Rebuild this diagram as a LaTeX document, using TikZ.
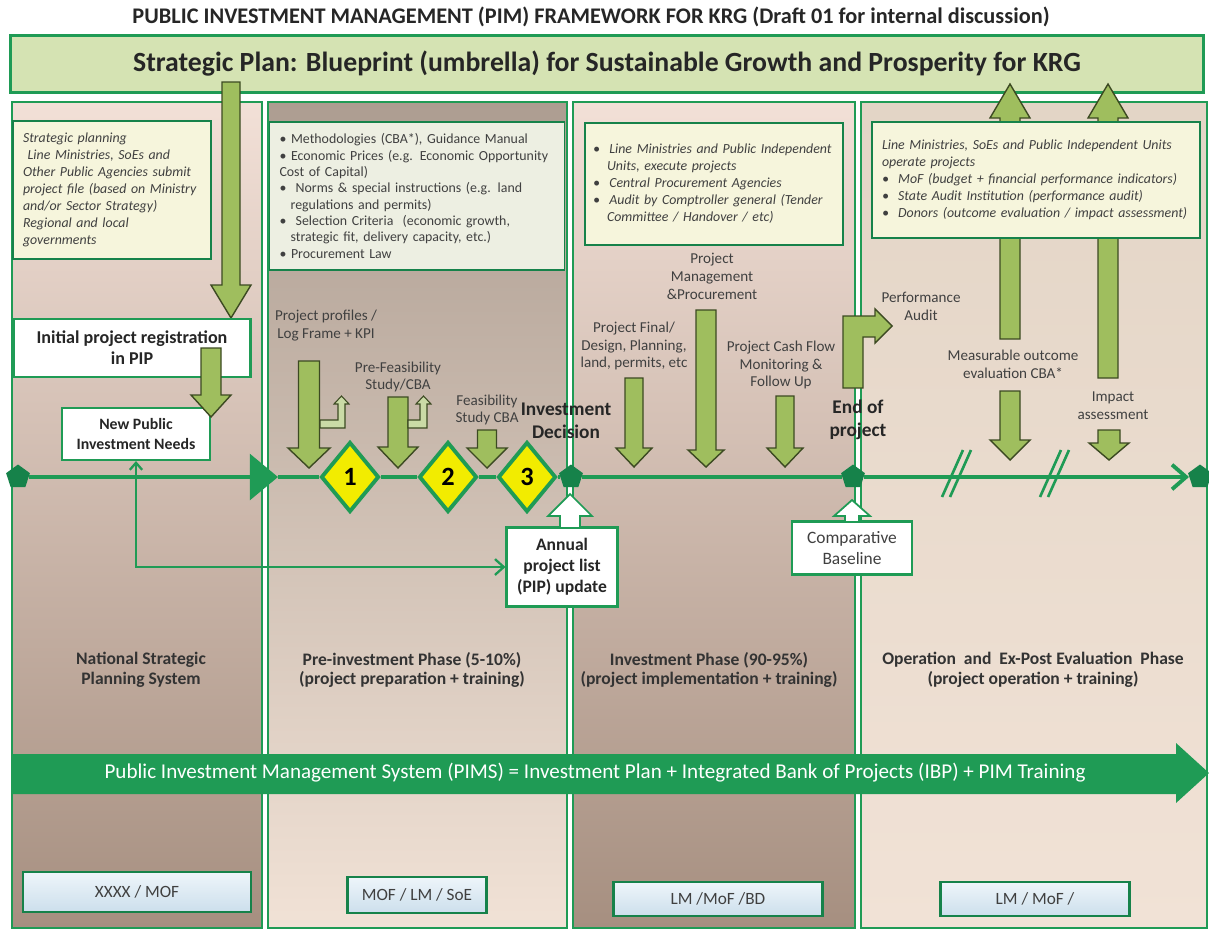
\documentclass[tikz,border=0pt]{standalone}
\usepackage{fontspec}
\setmainfont{Carlito}
\usetikzlibrary{arrows,arrows.meta,shapes}
\definecolor{pimgreen}{HTML}{1F9B55}
\definecolor{pimdark}{HTML}{16824A}
\definecolor{leaf}{HTML}{9FBE5E}
\definecolor{leafline}{HTML}{3C4A22}
\definecolor{bannerfill}{HTML}{D5E3B3}
\definecolor{notefill}{HTML}{F6F5DC}
\definecolor{notegrey}{HTML}{EDEFE2}
\definecolor{skytop}{HTML}{EEF5FA}
\definecolor{skybot}{HTML}{CCDFEC}
\definecolor{labgrey}{HTML}{404040}
\definecolor{yellowish}{HTML}{F2EC00}
\definecolor{rose}{HTML}{F2E0D7}
\definecolor{rosebrown}{HTML}{DCCABE}
\definecolor{mocha}{HTML}{A68F80}
\definecolor{taupe}{HTML}{AD9D91}
\definecolor{sandtop}{HTML}{E3D5C6}
\definecolor{sandbot}{HTML}{F1E2D6}
\tikzstyle{phase}=[draw=pimgreen, line width=1.3pt]
\tikzstyle{plan}=[draw=pimgreen, line width=1.5pt, fill=bannerfill,
  minimum width=23.86cm, minimum height=1.14cm, text=black!85,
  font=\bfseries\fontsize{15.8}{18}\selectfont]
\tikzstyle{note}=[draw=pimdark, line width=0.8pt, fill=notefill, align=left,
  inner xsep=0.2cm, text=labgrey, font=\itshape\fontsize{7.9}{9.7}\selectfont]
\tikzstyle{regbox}=[draw=pimgreen, line width=1.2pt, fill=white, align=center,
  text=black!85, font=\bfseries\fontsize{10.3}{12}\selectfont]
\tikzstyle{lbl}=[align=center, text=labgrey, inner sep=1pt,
  font=\fontsize{8.6}{10.2}\selectfont]
\tikzstyle{keylbl}=[align=center, text=black!85, inner sep=1pt,
  font=\bfseries\fontsize{11}{13}\selectfont]
\tikzstyle{phaselbl}=[align=center, text=black!80,
  font=\bfseries\fontsize{10}{11.3}\selectfont]
\tikzstyle{who}=[draw=pimdark, line width=1.2pt, top color=skytop,
  bottom color=skybot, text=black!75, font=\fontsize{9.8}{11}\selectfont]
\tikzstyle{milestone}=[diamond, draw=pimgreen, line width=2.2pt, fill=yellowish,
  minimum width=1.16cm, minimum height=1.4cm, inner sep=0pt,
  font=\bfseries\fontsize{15}{15}\selectfont]
\tikzstyle{hub}=[regular polygon, regular polygon sides=5, fill=pimdark,
  minimum size=0.5cm, inner sep=0pt]
\tikzstyle{tline}=[draw=pimgreen, line width=2.2pt]
\tikzstyle{link}=[draw=pimgreen, line width=1.3pt]
\tikzstyle{leafarrow}=[fill=leaf, draw=leafline, line width=0.8pt]
\tikzstyle{paleleaf}=[fill=leaf!55, draw=leafline, line width=0.6pt]
\tikzstyle{hollow}=[fill=white, draw=pimgreen, line width=1pt]
% block arrow: style, x, half shaft, start y, head y, tip y, half head
\newcommand{\blockarrow}[7]{%
  \draw[#1] ({#2-#3},#4) -- ({#2+#3},#4) -- ({#2+#3},#5) -- ({#2+#7},#5)
    -- (#2,#6) -- ({#2-#7},#5) -- ({#2-#3},#5) -- cycle;}
\begin{document}
\begin{tikzpicture}[x=0.02cm,y=-0.02cm]
\path[use as bounding box] (0,0) rectangle (1209,930);
% phase columns
\shadedraw[phase, top color=rose, middle color=rosebrown, bottom color=mocha]
  (12,102) rectangle (262,928);
\shadedraw[phase, top color=taupe, middle color=rosebrown, bottom color=sandbot]
  (268,102) rectangle (567,928);
\shadedraw[phase, top color=rose, middle color=rosebrown, bottom color=mocha]
  (573,102) rectangle (855,928);
\shadedraw[phase, top color=sandtop, bottom color=sandbot]
  (861,102) rectangle (1207,928);

\node[font=\bfseries\fontsize{12.7}{14}\selectfont, text=black!85] (title) at (591,17)
  {PUBLIC INVESTMENT MANAGEMENT (PIM) FRAMEWORK FOR KRG (Draft 01 for internal discussion)};
\node[plan] (plan) at (607,64)
  {Strategic Plan: Blueprint (umbrella) for Sustainable Growth and Prosperity for KRG};

\blockarrow{leafarrow}{231}{9}{82}{285}{318}{20}
\blockarrow{leafarrow}{1010}{10}{339}{118}{84}{20}
\blockarrow{leafarrow}{1108}{10}{378}{118}{84}{20}

% notes on top of each phase
\node[note, minimum width=3.96cm, minimum height=2.76cm, text width=3.56cm] (plannote) at (112,190)
  {Strategic planning\\
   \ Line Ministries, SoEs and\\
   Other Public Agencies submit\\
   project file (based on Ministry\\
   and/or Sector Strategy)\\
   Regional and local\\
   governments};
\node[note, fill=notegrey, font=\fontsize{7.9}{9.3}\selectfont, minimum width=5.9cm,
  minimum height=2.96cm, text width=5.5cm] (prenote) at (417,196)
  {\textbullet\ Methodologies (CBA*), Guidance Manual\\
   \textbullet\ Economic Prices (e.g. Economic Opportunity\\
   Cost of Capital)\\
   \textbullet\ \ Norms \& special instructions (e.g. land\\
   \hspace*{0.8em}regulations and permits)\\
   \textbullet\ \ Selection Criteria\ \ (economic growth,\\
   \hspace*{0.8em}strategic fit, delivery capacity, etc.)\\
   \textbullet\ Procurement Law};
\node[note, inner xsep=0.08cm, minimum width=5.16cm, minimum height=2.44cm,
  text width=5cm] (invnote) at (714,184)
  {\hspace*{0.3em}\textbullet\ \ Line Ministries and Public Independent\\
   \hspace*{1.3em}Units, execute projects\\
   \hspace*{0.3em}\textbullet\ \ Central Procurement Agencies\\
   \hspace*{0.3em}\textbullet\ \ Audit by Comptroller general (Tender\\
   \hspace*{1.3em}Committee / Handover / etc)};
\node[note, minimum width=6.56cm, minimum height=2.32cm, text width=6.16cm] (opnote) at (1036,180)
  {Line Ministries, SoEs and Public Independent Units\\
   operate projects\\
   \textbullet\ \ MoF (budget + financial performance indicators)\\
   \textbullet\ \ State Audit Institution (performance audit)\\
   \textbullet\ \ Donors (outcome evaluation / impact assessment)};

% registration
\node[regbox, minimum width=4.74cm, minimum height=1.16cm] (initial) at (132,348)
  {Initial project registration\\in PIP};
\node[regbox, font=\bfseries\fontsize{9}{11}\selectfont, minimum width=2.96cm,
  minimum height=1.04cm] (needs) at (136,434) {New Public\\Investment Needs};
\blockarrow{leafarrow}{211}{10}{348}{395}{417}{20}

% step arrows
\blockarrow{leafarrow}{309}{10.5}{361}{448}{468}{21}
\blockarrow{leafarrow}{398}{10}{397}{447}{468}{20}
\blockarrow{leafarrow}{487}{9.5}{430}{448}{468}{20}
\draw[paleleaf] (320,420) -- (338,420) -- (338,404) -- (334,404) -- (341.5,396)
  -- (349,404) -- (345,404) -- (345,428) -- (320,428) -- cycle;
\draw[paleleaf] (408,420) -- (420,420) -- (420,404) -- (416,404) -- (423.5,396)
  -- (431,404) -- (427,404) -- (427,428) -- (408,428) -- cycle;
\blockarrow{leafarrow}{634}{9}{378}{448}{467}{18}
\blockarrow{leafarrow}{706}{10}{310}{450}{467}{18}
\blockarrow{leafarrow}{785}{9}{396}{448}{467}{18}
\draw[leafarrow] (843,388) -- (843,316) -- (875,316) -- (875,309) -- (892,326)
  -- (875,343) -- (875,337) -- (863,337) -- (863,388) -- cycle;
\blockarrow{leafarrow}{1010}{10}{391}{440}{460}{20}
\blockarrow{leafarrow}{1109}{11}{430}{443}{460}{20}

\node[lbl] (profiles) at (326,326) {Project profiles /\\Log Frame + KPI};
\node[lbl] (prefeas) at (398,377) {Pre-Feasibility\\Study/CBA};
\node[lbl] (feas) at (487,410) {Feasibility\\Study CBA};
\node[keylbl] (decision) at (566,421) {Investment\\Decision};
\node[lbl] (finaldesign) at (634,346) {Project Final/\\Design, Planning,\\land, permits, etc};
\node[lbl] (management) at (712,276) {Project\\Management\\\&Procurement};
\node[lbl] (cashflow) at (781,365) {Project Cash Flow\\Monitoring \&\\Follow Up};
\node[keylbl] (endproj) at (858,420) {End of\\project};
\node[lbl] (perfaudit) at (921,306) {Performance\\Audit};
\node[lbl] (outcome) at (1013,364) {Measurable outcome\\evaluation CBA*};
\node[lbl] (impact) at (1113,406) {Impact\\assessment};

% time line
\node[hub] (p0) at (18,477) {};
\coordinate (tri) at (278,477);
\node[milestone] (d1) at (350,477) {1};
\node[milestone] (d2) at (448,477) {2};
\node[milestone] (d3) at (527,477) {3};
\node[hub] (p1) at (571,477) {};
\node[hub] (p2) at (853,477) {};
\node[hub] (p3) at (1200,477) {};
\draw[tline,-{Triangle[length=16pt,width=26pt]}] (p0) -- (tri);
\draw[tline] (tri) -- (d1) (d1) -- (d2) (d2) -- (d3) (d3) -- (p1) (p1) -- (p2);
\draw[tline,-{Straight Barb[length=8pt,width=14pt]}] (p2) -- (p3);
\draw[tline, line width=1.5pt] (942,497) -- (963,450) (950,497) -- (971,450);
\draw[tline, line width=1.5pt] (1040,497) -- (1061,450) (1048,497) -- (1069,450);

% review boxes
\node[regbox, font=\bfseries\fontsize{10}{12}\selectfont, minimum width=2.22cm,
  minimum height=1.58cm] (annual) at (562,567) {Annual\\project list\\(PIP) update};
\node[regbox, font=\fontsize{9.9}{11.5}\selectfont, text=labgrey, minimum width=2.4cm,
  minimum height=1.06cm] (baseline) at (852,548) {Comparative\\Baseline};
\blockarrow{hollow}{570}{10}{528}{516}{494}{22}
\blockarrow{hollow}{852}{7}{522}{516}{500}{18}
\draw[link, {Straight Barb[length=4pt,width=7pt]}-{Straight Barb[length=5pt,width=9pt]}]
  (needs) |- (annual);

\node[phaselbl] (nsps) at (141,670) {National Strategic\\Planning System};
\node[phaselbl] (prephase) at (412,670)
  {Pre-investment Phase (5-10\%)\\(project preparation + training)};
\node[phaselbl] (invphase) at (709,670)
  {Investment Phase (90-95\%)\\(project implementation + training)};
\node[phaselbl] (opphase) at (1033,670)
  {Operation\ \ and\ \ Ex-Post Evaluation\ \ Phase\\(project operation + training)};

% PIMS band
\fill[pimgreen] (12,754) -- (1176,754) -- (1176,743) -- (1209,773) -- (1176,803)
  -- (1176,794) -- (12,794) -- cycle;
\node[text=white, font=\fontsize{12}{14}\selectfont] (pims) at (595,773)
  {Public Investment Management System (PIMS) = Investment Plan + Integrated Bank of Projects (IBP) + PIM Training};

\node[who, minimum width=4.56cm, minimum height=0.8cm] (who1) at (137,892) {XXXX / MOF};
\node[who, minimum width=2.78cm, minimum height=0.72cm] (who2) at (417,895) {MOF / LM / SoE};
\node[who, minimum width=4.18cm, minimum height=0.68cm] (who3) at (718,899) {LM /MoF /BD};
\node[who, minimum width=3.78cm, minimum height=0.68cm] (who4) at (1035,899) {LM / MoF /};
\end{tikzpicture}
\end{document}
